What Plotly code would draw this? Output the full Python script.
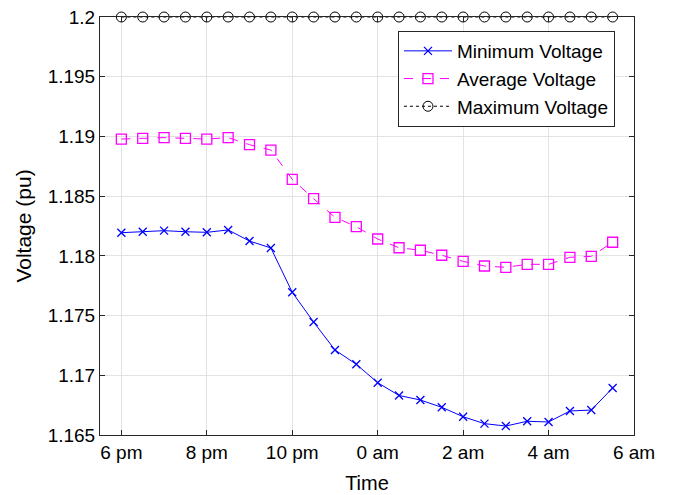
import plotly.graph_objects as go

hours = [0, 0.5, 1, 1.5, 2, 2.5, 3, 3.5, 4, 4.5, 5, 5.5,
         6, 6.5, 7, 7.5, 8, 8.5, 9, 9.5, 10, 10.5, 11, 11.5]
min_v = [1.18194, 1.18202, 1.18211, 1.18202, 1.18197, 1.18217, 1.18124, 1.18066,
         1.17695, 1.17446, 1.17212, 1.17092, 1.16938, 1.16831, 1.16793, 1.16732,
         1.16653, 1.16595, 1.16575, 1.16615, 1.16609, 1.16701, 1.16709, 1.16894]
avg_v = [1.18978, 1.18984, 1.18990, 1.18984, 1.18978, 1.18990, 1.18931, 1.18886,
         1.18641, 1.18479, 1.18323, 1.18244, 1.18141, 1.18068, 1.18047, 1.18005,
         1.17954, 1.17915, 1.17904, 1.17929, 1.17929, 1.17988, 1.17996, 1.18114]
max_v = [1.2] * 24

x_tickvals = [0, 2, 4, 6, 8, 10, 12]
x_ticktext = ["6 pm", "8 pm", "10 pm", "0 am", "2 am", "4 am", "6 am"]
y_tickvals = [1.165, 1.17, 1.175, 1.18, 1.185, 1.19, 1.195, 1.2]
y_ticktext = ["1.165", "1.17", "1.175", "1.18", "1.185", "1.19", "1.195", "1.2"]

FONT = "Liberation Sans, Arial, sans-serif"

fig = go.Figure()
fig.add_trace(go.Scatter(
    x=hours, y=min_v, name="Minimum Voltage", mode="lines+markers",
    line=dict(color="#0000ff", width=1),
    marker=dict(symbol="x-thin-open", size=8, color="#0000ff",
                line=dict(color="#0000ff", width=1.3)),
    cliponaxis=False))
fig.add_trace(go.Scatter(
    x=hours, y=avg_v, name="Average Voltage", mode="lines+markers",
    line=dict(color="#ff00ff", width=1, dash="dash"),
    marker=dict(symbol="square-open", size=10, color="#ff00ff",
                line=dict(color="#ff00ff", width=1.3)),
    cliponaxis=False))
fig.add_trace(go.Scatter(
    x=hours, y=max_v, name="Maximum Voltage", mode="lines+markers",
    line=dict(color="#000000", width=1, dash="dot"),
    marker=dict(symbol="circle-open", size=10, color="#000000",
                line=dict(color="#000000", width=1)),
    cliponaxis=False))

fig.update_layout(
    width=666, height=487,
    margin=dict(l=92, r=40, t=9, b=60),
    paper_bgcolor="white", plot_bgcolor="white",
    font=dict(family=FONT, size=19, color="#000000"),
    showlegend=True,
    legend=dict(
        x=0.558, y=0.9665, xanchor="left", yanchor="top",
        bgcolor="white", bordercolor="#262626", borderwidth=1,
        font=dict(family=FONT, size=19, color="#000000"),
        itemwidth=48, tracegroupgap=0,
    ),
    xaxis=dict(
        range=[-0.5, 12], tickvals=x_tickvals, ticktext=x_ticktext,
        showgrid=True, gridcolor="#e3e3e3", gridwidth=1,
        showline=True, linecolor="#262626", linewidth=1, mirror="ticks",
        ticks="inside", ticklen=5, tickcolor="#262626",
        zeroline=False, automargin=False, ticklabeloverflow="allow",
        title=dict(text="Time", font=dict(size=20, color="#000000"), standoff=14),
        tickfont=dict(size=19, color="#000000"),
    ),
    yaxis=dict(
        range=[1.165, 1.2], tickvals=y_tickvals, ticktext=y_ticktext,
        showgrid=True, gridcolor="#e3e3e3", gridwidth=1,
        showline=True, linecolor="#262626", linewidth=1, mirror="ticks",
        ticks="inside", ticklen=5, tickcolor="#262626",
        zeroline=False, automargin=False, ticklabeloverflow="allow",
        title=dict(text="Voltage (pu)", font=dict(size=21, color="#000000"), standoff=10),
        tickfont=dict(size=19, color="#000000"),
    ),
)

fig.write_html("out.html")
